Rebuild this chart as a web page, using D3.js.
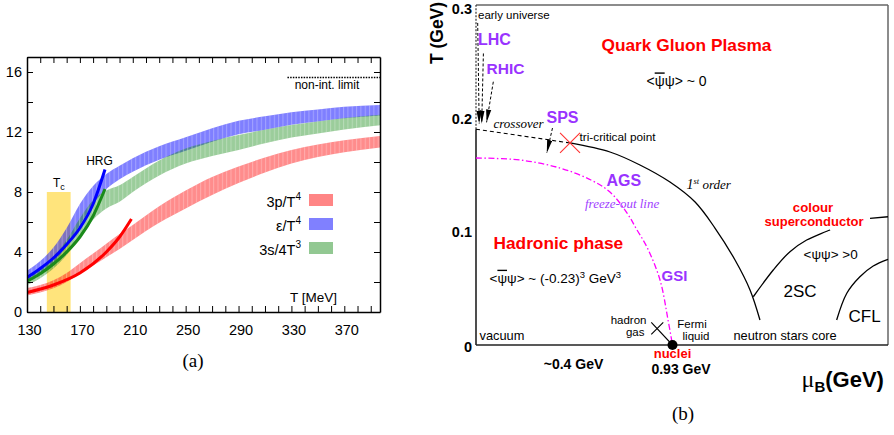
<!DOCTYPE html>
<html>
<head>
<meta charset="utf-8">
<script src="https://cdn.jsdelivr.net/npm/d3@7"></script>
<style>
  html, body { margin: 0; padding: 0; background: #fff; }
  svg { display: block; }
</style>
</head>
<body>
<svg id="fig" width="894" height="435"></svg>
<script>
// ================= Panel (a): lattice equation of state =================
const temps        = [130, 140, 150, 160, 170, 180, 190, 200, 210, 230, 250, 270, 290, 310, 330, 350, 370, 397];
const energyMid    = [2.4, 3.0, 3.8, 5.0, 6.5, 7.8, 8.7, 9.3, 9.8, 10.6, 11.2, 11.8, 12.3, 12.6, 12.9, 13.1, 13.3, 13.45];
const energyErr    = [0.35, 0.4, 0.5, 0.6, 0.7, 0.6, 0.5, 0.45, 0.45, 0.45, 0.45, 0.45, 0.45, 0.45, 0.42, 0.4, 0.38, 0.35];
const entropyMid   = [2.1, 2.6, 3.3, 4.3, 5.6, 6.8, 7.5, 7.9, 8.5, 9.6, 10.4, 10.9, 11.3, 11.7, 12.05, 12.3, 12.55, 12.8];
const entropyErr   = [0.3, 0.35, 0.4, 0.5, 0.65, 0.65, 0.6, 0.55, 0.5, 0.5, 0.5, 0.5, 0.5, 0.45, 0.42, 0.4, 0.38, 0.35];
const pressureMid  = [1.35, 1.55, 1.85, 2.3, 2.9, 3.5, 4.1, 4.7, 5.3, 6.5, 7.5, 8.4, 9.15, 9.8, 10.35, 10.75, 11.05, 11.35];
const pressureErr  = [0.25, 0.25, 0.27, 0.3, 0.35, 0.4, 0.45, 0.5, 0.5, 0.55, 0.6, 0.6, 0.55, 0.5, 0.45, 0.42, 0.4, 0.38];

// hadron resonance gas curves
const hrgTempsLow   = [130, 140, 150, 160, 170, 180, 189];
const hrgEnergy     = [2.3, 2.9, 3.6, 4.5, 5.6, 7.2, 9.5];
const hrgEntropy    = [2.05, 2.55, 3.2, 4.0, 5.0, 6.4, 8.2];
const hrgTempsP     = [130, 150, 170, 190, 200, 209];
const hrgPressure   = [1.3, 1.8, 2.6, 4.0, 5.0, 6.2];

const tcRange       = [145, 163];
const tcTop         = 8;
const nonIntLimit   = 15.63;
const nonIntFrom    = 327;
const xTickLabelsA  = [130, 170, 210, 250, 290, 330, 370];
const yTickLabelsA  = [0, 4, 8, 12, 16];
const legendNames   = ["3p/T", "ε/T", "3s/4T"];
const legendPowers  = ["4", "4", "3"];

// ================= Panel (b): QCD phase diagram =================
const yTicksB       = [0, 0.1, 0.2, 0.3];
const crossover     = [[0, 0.191], [0.445, 0.1788]];
const triCritical   = [0.445, 0.1788];
const firstOrder    = [[0.445, 0.1788], [0.634, 0.1708], [0.776, 0.1593], [0.918, 0.1442], [1.037, 0.1265],
                       [1.131, 0.1035], [1.226, 0.0752], [1.297, 0.0487], [1.344, 0.0221]];
const freezeOut     = [[0, 0.1655], [0.208, 0.1637], [0.398, 0.1566], [0.544, 0.146], [0.634, 0.1354],
                       [0.715, 0.1168], [0.762, 0.1018], [0.809, 0.0867], [0.871, 0.0575], [0.909, 0.0221], [0.93, 0]];
const cscBoundary   = [[1.3125, 0.0427], [1.407, 0.0664], [1.486, 0.0826], [1.565, 0.0929], [1.676, 0.1018]];
const cscEdge       = [[1.865, 0.1121], [1.95, 0.1135]];
const cflBoundary   = [[1.707, 0.0221], [1.755, 0.0458], [1.817, 0.0604], [1.880, 0.0699], [1.95, 0.0758]];
const nucleiMu      = 0.93;
const hadronGas     = [0.858, 0.0148];
const arrows        = [   // [from, to] in (muB, T)
  [[0.008, 0.285], [0.015, 0.196]],   // early universe
  [[0.035, 0.258], [0.027, 0.196]],   // LHC
  [[0.082, 0.233], [0.050, 0.197]],   // RHIC
  [[0.362, 0.192], [0.335, 0.170]]    // SPS
];

// ---------------------------------------------------------------
const SANS  = "'Liberation Sans', Arial, Helvetica, sans-serif";
const SERIF = "'Liberation Serif', 'Times New Roman', serif";
const svg = d3.select("#fig");
const defs = svg.append("defs");

// ---------- panel (a) ----------
const xA = d3.scaleLinear().domain([130, 397]).range([27, 380]);
const yA = d3.scaleLinear().domain([0, 17]).range([312, 57]);

defs.append("clipPath").attr("id", "clipA")
  .append("rect").attr("x", 27).attr("y", 57).attr("width", 353).attr("height", 255);

const stripes = defs.append("pattern").attr("id", "stripes")
  .attr("patternUnits", "userSpaceOnUse").attr("x", 27).attr("y", 0)
  .attr("width", 4.33).attr("height", 10);
stripes.append("rect").attr("x", 0).attr("y", 0).attr("width", 1).attr("height", 10)
  .attr("fill", "#fff").attr("fill-opacity", 0.28);

const gA = svg.append("g").attr("clip-path", "url(#clipA)");

// critical temperature range
gA.append("rect")
  .attr("x", xA(tcRange[0])).attr("width", xA(tcRange[1]) - xA(tcRange[0]))
  .attr("y", yA(tcTop)).attr("height", yA(0) - yA(tcTop))
  .attr("fill", "#ffe47c");

const bands = [
  { mid: energyMid,   err: energyErr,   color: "#0000ff", op: 0.5 },
  { mid: entropyMid,  err: entropyErr,  color: "#118811", op: 0.42 },
  { mid: pressureMid, err: pressureErr, color: "#ff0000", op: 0.45 }
];
const bandArea = d3.area()
  .x(d => xA(d.t)).y0(d => yA(d.lo)).y1(d => yA(d.hi))
  .curve(d3.curveMonotoneX);

bands.forEach(b => {
  const rows = temps.map((t, i) => ({ t, lo: b.mid[i] - b.err[i], hi: b.mid[i] + b.err[i] }));
  gA.append("path").attr("d", bandArea(rows)).attr("fill", b.color).attr("fill-opacity", b.op);
  gA.append("path").attr("d", bandArea(rows)).attr("fill", "url(#stripes)");
});

const hrgLine = d3.line().x(d => xA(d[0])).y(d => yA(d[1])).curve(d3.curveMonotoneX);
[
  { t: hrgTempsP,   v: hrgPressure, color: "#ff0000" },
  { t: hrgTempsLow, v: hrgEntropy,  color: "#1a8a1a" },
  { t: hrgTempsLow, v: hrgEnergy,   color: "#0000ff" }
].forEach(s => {
  gA.append("path").attr("d", hrgLine(s.t.map((t, i) => [t, s.v[i]])))
    .attr("fill", "none").attr("stroke", s.color).attr("stroke-width", 3).attr("stroke-linecap", "butt");
});

// non-interacting limit
svg.append("line")
  .attr("x1", xA(nonIntFrom)).attr("x2", xA(397))
  .attr("y1", yA(nonIntLimit)).attr("y2", yA(nonIntLimit))
  .attr("stroke", "#000").attr("stroke-width", 1.4).attr("stroke-dasharray", "1.5,1.2");
svg.append("text").attr("x", 327).attr("y", 85).attr("dy", "0.35em")
  .attr("text-anchor", "middle").attr("font-family", SANS).attr("font-size", 12)
  .text("non-int. limit");

// axes of panel (a)
const tenMeV = d3.range(130, 397, 10);
const twoUnits = d3.range(0, 17, 2);
function styleAxis(g) {
  g.select(".domain").attr("stroke", "#000").attr("stroke-width", 1.5);
  g.selectAll(".tick line").attr("stroke", "#000").attr("stroke-width", 1);
  g.selectAll(".tick text").attr("font-family", SANS).attr("font-size", 14.5).attr("fill", "#000");
}
svg.append("g").attr("transform", "translate(0,312)")
  .call(d3.axisBottom(xA).tickValues(tenMeV).tickSize(-6).tickSizeOuter(0).tickPadding(13)
    .tickFormat(d => xTickLabelsA.includes(d) ? d : ""))
  .call(styleAxis)
  .call(g => g.selectAll(".tick text").attr("dx", 2));
svg.append("g").attr("transform", "translate(0,57)")
  .call(d3.axisTop(xA).tickValues(tenMeV).tickSize(-6).tickSizeOuter(0).tickFormat(""))
  .call(styleAxis);
svg.append("g").attr("transform", "translate(27,0)")
  .call(d3.axisLeft(yA).tickValues(twoUnits).tickSize(-6).tickSizeOuter(0).tickPadding(5)
    .tickFormat(d => yTickLabelsA.includes(d) ? d : ""))
  .call(styleAxis);
svg.append("g").attr("transform", "translate(380,0)")
  .call(d3.axisRight(yA).tickValues(twoUnits).tickSize(-6).tickSizeOuter(0).tickFormat(""))
  .call(styleAxis);

// annotations of panel (a)
svg.append("text").attr("x", 99.5).attr("y", 161).attr("dy", "0.35em").attr("text-anchor", "middle")
  .attr("font-family", SANS).attr("font-size", 12).text("HRG");
const tcText = svg.append("text").attr("x", 53).attr("y", 187)
  .attr("font-family", SANS).attr("font-size", 12);
tcText.append("tspan").text("T");
tcText.append("tspan").attr("dy", 3).attr("font-size", 9).text("c");

svg.append("text").attr("x", 337).attr("y", 297).attr("dy", "0.35em").attr("text-anchor", "end")
  .attr("font-family", SANS).attr("font-size", 13.5).text("T [MeV]");

// legend
const legendColors = ["#ff8585", "#8080ff", "#92c892"];
legendNames.forEach((name, i) => {
  const yc = 200 + i * 24;
  svg.append("rect").attr("x", 309).attr("y", yc - 6).attr("width", 24).attr("height", 12)
    .attr("fill", legendColors[i]);
  const t = svg.append("text").attr("x", 301).attr("y", yc + 6.5).attr("text-anchor", "end")
    .attr("font-family", SANS).attr("font-size", 14.5);
  t.append("tspan").text(name);
  t.append("tspan").attr("dy", -7).attr("font-size", 10).text(legendPowers[i]);
});

svg.append("text").attr("x", 193).attr("y", 360).attr("dy", "0.35em").attr("text-anchor", "middle")
  .attr("font-family", SERIF).attr("font-size", 19).text("(a)");

// ---------- panel (b) ----------
const xB = d3.scaleLinear().domain([0, 1.95]).range([476, 888]);
const yB = d3.scaleLinear().domain([0, 0.3]).range([345, 6]);
const gB = svg.append("g");

// frame
gB.append("line").attr("x1", 476).attr("x2", 888).attr("y1", 5).attr("y2", 5)
  .attr("stroke", "#666").attr("stroke-width", 1.5);
gB.append("line").attr("x1", 888).attr("x2", 888).attr("y1", 5).attr("y2", yB(0))
  .attr("stroke", "#666").attr("stroke-width", 1.5);
gB.append("line").attr("x1", xB(0)).attr("x2", 888).attr("y1", yB(0)).attr("y2", yB(0))
  .attr("stroke", "#222").attr("stroke-width", 1.6);
gB.append("line").attr("x1", xB(0)).attr("x2", xB(0)).attr("y1", yB(0)).attr("y2", yB(crossover[0][1]))
  .attr("stroke", "#222").attr("stroke-width", 1.6);
gB.append("line").attr("x1", xB(0)).attr("x2", xB(0)).attr("y1", yB(crossover[0][1])).attr("y2", 5)
  .attr("stroke", "#333").attr("stroke-width", 1.2).attr("stroke-dasharray", "2,1.5");

svg.append("g").attr("transform", `translate(${xB(0)},0)`)
  .call(d3.axisLeft(yB).tickValues(yTicksB).tickSize(0).tickPadding(4)
    .tickFormat(d => d === 0 ? "0" : d3.format(".1f")(d)))
  .call(g => g.select(".domain").remove())
  .call(g => g.selectAll(".tick text").attr("font-family", SANS).attr("font-weight", "bold")
    .attr("font-size", 14.5).attr("fill", "#000"))
  .call(g => g.selectAll(".tick text").filter(d => d === 0.3).attr("dy", "0.55em"))
  .call(g => g.selectAll(".tick text").filter(d => d === 0).attr("dy", "0.45em"));

const lineB = d3.line().x(d => xB(d[0])).y(d => yB(d[1]));
const curveB = d3.line().x(d => xB(d[0])).y(d => yB(d[1])).curve(d3.curveCatmullRom.alpha(0.5));

gB.append("path").attr("d", lineB(crossover)).attr("fill", "none")
  .attr("stroke", "#000").attr("stroke-width", 1.1).attr("stroke-dasharray", "4,3");
gB.append("path").attr("d", curveB(firstOrder)).attr("fill", "none")
  .attr("stroke", "#000").attr("stroke-width", 1.3);
gB.append("path").attr("d", curveB(freezeOut)).attr("fill", "none")
  .attr("stroke", "#ff00ff").attr("stroke-width", 1.3).attr("stroke-dasharray", "6,2.5,1.5,2.5");
gB.append("path").attr("d", curveB(cscBoundary)).attr("fill", "none")
  .attr("stroke", "#000").attr("stroke-width", 1.3);
gB.append("path").attr("d", lineB(cscEdge)).attr("fill", "none")
  .attr("stroke", "#000").attr("stroke-width", 1.3);
gB.append("path").attr("d", curveB(cflBoundary)).attr("fill", "none")
  .attr("stroke", "#000").attr("stroke-width", 1.3);

// arrows
defs.append("marker").attr("id", "head").attr("markerUnits", "userSpaceOnUse")
  .attr("viewBox", "0 -3 13 6").attr("refX", 13).attr("refY", 0)
  .attr("markerWidth", 13).attr("markerHeight", 6).attr("orient", "auto")
  .append("path").attr("d", "M0,-2.6L13,0L0,2.6Z").attr("fill", "#000");
arrows.forEach(a => {
  gB.append("path").attr("d", lineB(a)).attr("fill", "none")
    .attr("stroke", "#000").attr("stroke-width", 1).attr("stroke-dasharray", "3,2")
    .attr("marker-end", "url(#head)");
});

// tri-critical point
const tcx = xB(triCritical[0]), tcy = yB(triCritical[1]);
gB.append("path").attr("d", `M${tcx - 10},${tcy - 10}L${tcx + 10},${tcy + 10}M${tcx - 10},${tcy + 10}L${tcx + 10},${tcy - 10}`)
  .attr("stroke", "#ff3030").attr("stroke-width", 1.1);

// hadron gas to nuclei
const hgx = xB(hadronGas[0]), hgy = yB(hadronGas[1]);
gB.append("path").attr("d", `M${hgx - 6},${hgy - 6}L${xB(nucleiMu)},${yB(0)}M${hgx - 6},${hgy + 6}L${hgx + 6},${hgy - 6}`)
  .attr("stroke", "#000").attr("stroke-width", 1.1).attr("fill", "none");
gB.append("circle").attr("cx", xB(nucleiMu)).attr("cy", yB(0)).attr("r", 5).attr("fill", "#000");

// labels of panel (b)
const PURPLE = "#9933ff";
function label(x, y, txt, opts = {}) {
  const t = svg.append("text").attr("x", x).attr("y", y).attr("dy", "0.35em")
    .attr("text-anchor", opts.anchor || "start")
    .attr("font-family", opts.family || SANS)
    .attr("font-size", opts.size || 12)
    .attr("font-weight", opts.bold ? "bold" : "normal")
    .attr("font-style", opts.italic ? "italic" : "normal")
    .attr("fill", opts.color || "#000");
  if (txt !== null) t.text(txt);
  return t;
}
function psiBar(t) {
  t.append("tspan").text("<");
  t.append("tspan").attr("text-decoration", "overline").style("text-decoration", "overline").text("ψ");
  t.append("tspan").text("ψ>");
}

label(478, 15, "early universe", { size: 11.5 });
label(478, 39, "LHC", { size: 16, bold: true, color: PURPLE });
label(486.5, 69, "RHIC", { size: 15.5, bold: true, color: PURPLE });
label(601.5, 44.5, "Quark Gluon Plasma", { size: 17.3, bold: true, color: "#ff0000" });
{ const t = label(646.5, 81.5, null, { size: 14 }); psiBar(t); t.append("tspan").text(" ~ 0"); }
label(493.5, 123, "crossover", { size: 13, italic: true, family: SERIF });
label(546.5, 117, "SPS", { size: 16, bold: true, color: PURPLE });
label(579.5, 137, "tri-critical point", { size: 11.8 });
label(606.5, 180.5, "AGS", { size: 16, bold: true, color: PURPLE });
label(585, 203, "freeze-out line", { size: 13, italic: true, family: SERIF, color: "#a040ff" });
{ const t = label(686.5, 184, null, { size: 13, italic: true, family: SERIF });
  t.append("tspan").attr("font-size", 14).text("1");
  t.append("tspan").attr("dy", -5).attr("font-size", 8.5).text("st");
  t.append("tspan").attr("dy", 5).text(" order"); }
label(493.5, 243, "Hadronic phase", { size: 17.3, bold: true, color: "#ff0000" });
{ const t = label(489.5, 278, null, { size: 13.5 }); psiBar(t);
  t.append("tspan").text(" ~ (-0.23)");
  t.append("tspan").attr("dy", -5).attr("font-size", 9.5).text("3");
  t.append("tspan").attr("dy", 5).text(" GeV");
  t.append("tspan").attr("dy", -5).attr("font-size", 9.5).text("3"); }
label(661.5, 276, "GSI", { size: 15, bold: true, color: PURPLE });
label(646.5, 320, "hadron", { size: 11.5, anchor: "end" });
label(644.5, 332, "gas", { size: 11.5, anchor: "end" });
label(692, 323.5, "Fermi", { size: 11.5, anchor: "middle" });
label(696, 336, "liquid", { size: 11.5, anchor: "middle" });
label(479.5, 336, "vacuum", { size: 12.8 });
label(733.5, 335.5, "neutron stars core", { size: 12.8 });
label(813, 207.5, "colour", { size: 13.2, bold: true, color: "#ff0000", anchor: "middle" });
label(814, 221, "superconductor", { size: 13, bold: true, color: "#ff0000", anchor: "middle" });
label(803.5, 254, "<ψψ> >0", { size: 13.5 });
label(783.5, 291, "2SC", { size: 17 });
label(848.5, 316, "CFL", { size: 17 });
label(573.5, 364.5, "~0.4 GeV", { size: 14, bold: true, anchor: "middle" });
label(xB(nucleiMu), 353.5, "nuclei", { size: 13, bold: true, color: "#ff0000", anchor: "middle" });
label(681, 369.5, "0.93 GeV", { size: 14, bold: true, anchor: "middle" });
{ const t = label(801.5, 379, null, { size: 22, bold: true });
  t.append("tspan").attr("font-weight", "normal").attr("font-family", SERIF).attr("font-size", 24).text("μ");
  t.append("tspan").attr("dy", 5).attr("font-size", 15).text("B");
  t.append("tspan").attr("dy", -5).text("(GeV)"); }
svg.append("text").attr("transform", "translate(437,33) rotate(-90)").attr("dy", "0.35em")
  .attr("text-anchor", "middle").attr("font-family", SANS).attr("font-weight", "bold")
  .attr("font-size", 17.5).text("T (GeV)");
svg.append("text").attr("x", 683).attr("y", 413).attr("dy", "0.35em").attr("text-anchor", "middle")
  .attr("font-family", SERIF).attr("font-size", 19).text("(b)");
</script>
</body>
</html>
